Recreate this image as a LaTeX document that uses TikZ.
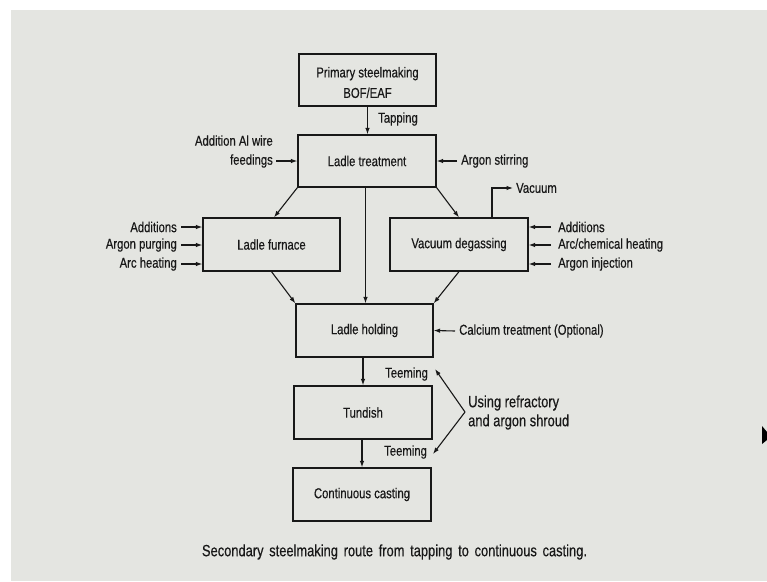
\documentclass[tikz,border=0pt]{standalone}
\usepackage{fontspec}
\setmainfont[FakeStretch=0.79,FakeBold=0.4]{Liberation Sans}
\usetikzlibrary{arrows.meta,calc}
\definecolor{slide}{RGB}{228,229,225}
\definecolor{ink}{RGB}{24,24,24}
\tikzset{
  box/.style={draw=ink, line width=1.2pt, minimum width=137pt, minimum height=52pt, inner sep=0pt, align=center, text=ink},
  flow/.style={draw=ink, line width=1.1pt, -{Latex[length=6.5pt,width=4.5pt]}},
  lbl/.style={text=ink, inner sep=0pt},
  big/.style={font=\fontsize{16.3}{19}\selectfont}
}
\begin{document}
\begin{tikzpicture}[x=1pt,y=-1pt,font=\fontsize{14.3}{19}\selectfont]
\useasboundingbox (0,0) rectangle (767,581);
\fill[white] (0,0) rectangle (767,581);
\fill[slide] (11,10) rectangle (767,581);
% boxes
\node[box, minimum width=137pt] (prim) at (367.5,80) {};
\node[lbl, align=center] (primt) at (367.5,82.5) {Primary steelmaking\\[1.5pt]BOF/EAF};
\node[box, minimum width=138pt] (lt) at (367,161) {Ladle treatment};
\node[box, minimum height=53pt] (lf) at (271.5,244.5) {Ladle furnace};
\node[box, minimum width=138pt, minimum height=53pt] (vd) at (459,244.5) {Vacuum degassing};
\node[box, minimum height=53pt] (lh) at (364.5,330.5) {Ladle holding};
\node[box, minimum width=138pt, minimum height=53pt] (tun) at (363,412.5) {Tundish};
\node[box, minimum width=138pt, minimum height=53pt] (cc) at (362,494.5) {Continuous casting};
% main flow
\draw[flow] (prim.south) -- (prim.south |- lt.north);
\node[lbl, anchor=west] (tap) at (378,119) {Tapping};
\draw[flow] (lt.south west) -- ($(lf.north)+(2.5,0)$);
\draw[flow] (lt.south east) -- (vd.north);
\draw[flow] ($(lt.south)+(-1.5,0)$) -- ($(lh.north)+(1,0)$);
\draw[flow] (lf.south) -- (lh.north west);
\draw[flow] (vd.south) -- (lh.north east);
\draw[flow] (tun.north |- lh.south) -- (tun.north);
\draw[flow] (cc.north |- tun.south) -- (cc.north);
% ladle treatment inputs
\coordinate (alw) at (276,161);
\node[lbl, anchor=east, align=right] (al) at (273,151.5) {Addition Al wire\\feedings};
\draw[flow] (alw) -- (lt.west);
\coordinate (ars) at (457,161);
\node[lbl, anchor=west] (arst) at (461,161) {Argon stirring};
\draw[flow] (ars) -- (lt.east);
% vacuum
\coordinate (vac0) at ($(vd.north)+(33,0)$);
\coordinate (vac1) at (513,188);
\draw[flow] (vac0) |- (vac1);
\node[lbl, anchor=west] (vac) at (516,188) {Vacuum};
% ladle furnace inputs
\foreach \t/\y/\n in {{Additions}/227/l1, {Argon purging}/245/l2, {Arc heating}/264/l3}{
  \coordinate (\n a) at (181,\y);
  \node[lbl, anchor=east] (\n) at (177,\y) {\t};
  \draw[flow] (\n a) -- (\n a -| lf.west);
}
% vacuum degassing inputs
\foreach \t/\y/\n in {{Additions}/227/r1, {Arc/chemical heating}/245/r2, {Argon injection}/264/r3}{
  \coordinate (\n a) at (551,\y);
  \node[lbl, anchor=west] (\n) at (558,\y) {\t};
  \draw[flow] (\n a) -- (\n a -| vd.east);
}
% calcium
\coordinate (ca) at (455,331);
\node[lbl, anchor=west] (cat) at (459,331) {Calcium treatment (Optional)};
\draw[flow] (ca) -- (lh.east);
% teeming
\node[lbl, anchor=west] (tm1) at (385,374) {Teeming};
\node[lbl, anchor=west] (tm2) at (384,452) {Teeming};
\coordinate (br) at (465,412);
\coordinate (b1) at (435,369);
\coordinate (b2) at (433,454);
\draw[flow] (br) -- (b1);
\draw[flow] (br) -- (b2);
\node[lbl, big, anchor=west, align=left] (ref) at (468,412.5) {Using refractory\\and argon shroud};
% caption
\node[lbl, font=\fontsize{16.3}{19}\selectfont] (cap) at (394.5,552) {\makebox[385pt][s]{Secondary steelmaking route from tapping to continuous casting.}};
% cursor
\fill[black] (762,426) -- (767,432) -- (767,440) -- (762,444) -- cycle;
\end{tikzpicture}
\end{document}
